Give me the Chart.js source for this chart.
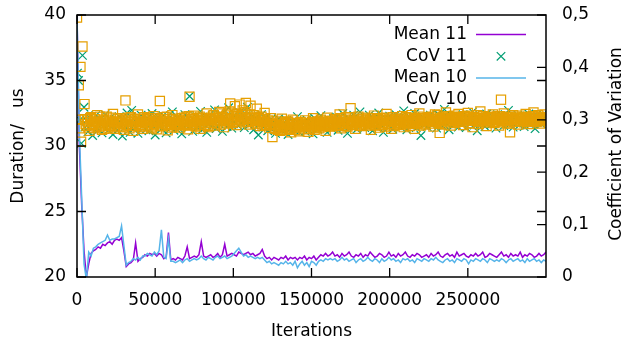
<!DOCTYPE html>
<html><head><meta charset="utf-8">
<script src="https://cdn.jsdelivr.net/npm/chart.js@4/dist/chart.umd.min.js"></script>
<style>html,body{margin:0;padding:0;background:#fff}#wrap{width:623px;height:344px;position:relative}</style>
</head><body><div id="wrap"><canvas id="c"></canvas></div>
<script>
// ---------- tick labels ----------
const xTicks = [0, 50000, 100000, 150000, 200000, 250000];
const yTicks = [20, 25, 30, 35, 40];
const y2Ticks = [0, 0.1, 0.2, 0.3, 0.4, 0.5];
const y2TickLabels = ['0', '0,1', '0,2', '0,3', '0,4', '0,5'];
const seriesLabels = ['Mean 11', 'CoV 11', 'Mean 10', 'CoV 10'];

// ---------- mean durations (us), sampled every 1500 iterations ----------
const meanStep = 1500;
const mean11 = [
40,30,25.5,22,20.0,21.0,21.8,22.0,22.1,22.3,
22.2,22.5,22.4,22.6,22.7,22.5,22.8,22.9,22.8,23.0,
22.0,20.8,21.0,21.1,21.3,22.6,21.2,21.4,21.5,21.7,
21.6,21.8,21.7,21.8,21.6,21.8,21.7,21.4,21.5,23.4,
21.3,21.4,21.3,21.5,21.4,21.3,21.6,22.3,21.4,21.5,
21.6,21.5,21.7,22.7,21.6,21.5,21.6,21.7,21.5,21.6,
21.8,21.5,21.7,22.5,21.6,21.7,21.8,21.7,21.6,21.9,
21.8,21.7,21.8,21.9,21.7,21.8,21.6,21.7,21.8,22.1,
21.6,21.4,21.5,21.3,21.5,21.4,21.3,21.5,21.4,21.6,
21.3,21.5,21.4,21.5,21.3,21.5,21.4,21.6,21.3,21.5,
21.4,21.6,21.3,21.5,21.7,21.6,21.8,21.6,21.7,21.9,
21.6,21.7,21.5,21.8,21.6,21.7,21.9,21.6,21.5,21.7,
21.6,21.8,21.5,21.7,21.6,21.9,21.7,21.5,21.6,21.8,
21.7,21.5,21.6,21.9,21.6,21.7,21.5,21.8,21.6,21.7,
21.9,21.6,21.5,21.7,21.6,21.8,21.7,21.5,21.6,21.7,
21.5,21.8,21.6,21.7,21.9,21.6,21.5,21.7,21.8,21.6,
21.7,21.5,21.9,21.6,21.7,21.8,21.6,21.5,21.7,21.6,
21.8,21.6,21.7,21.9,21.5,21.6,21.8,21.7,21.6,21.5,
21.7,21.9,21.6,21.7,21.5,21.8,21.6,21.7,21.6,21.9,
21.5,21.7,21.6,21.8,21.7,21.5,21.6,21.8,21.6,21.7,
21.9];
const mean10 = [
40,31,26,21,19.8,21.9,21.6,22.2,22.3,22.5,
22.6,22.7,22.8,23.2,22.8,22.9,22.9,23.0,23.1,23.9,
22.4,20.9,21.1,21.2,21.4,21.3,21.5,21.3,21.6,21.6,
21.8,21.7,21.6,21.9,21.7,22.0,23.6,21.5,21.4,22.9,
21.2,21.2,21.1,21.2,21.3,21.1,21.3,21.4,21.2,21.3,
21.4,21.3,21.4,21.6,21.4,21.3,21.5,21.4,21.3,21.5,
21.6,21.4,21.5,21.6,21.4,21.5,21.6,21.8,22.0,22.2,
21.9,21.6,21.7,21.5,21.6,21.5,21.4,21.5,21.4,21.5,
21.3,21.1,21.2,21.0,21.1,21.0,20.9,21.1,21.0,21.2,
21.0,21.1,20.9,21.2,20.7,21.0,21.2,20.9,21.1,20.8,
21.2,21.1,20.9,21.2,21.3,21.2,21.4,21.3,21.4,21.3,
21.4,21.2,21.3,21.5,21.3,21.4,21.2,21.3,21.4,21.1,
21.3,21.4,21.2,21.3,21.5,21.3,21.2,21.4,21.3,21.1,
21.4,21.2,21.3,21.5,21.3,21.4,21.2,21.3,21.1,21.4,
21.3,21.4,21.2,21.3,21.1,21.4,21.3,21.2,21.4,21.3,
21.2,21.4,21.3,21.5,21.3,21.2,21.1,21.3,21.4,21.2,
21.3,21.1,21.4,21.3,21.2,21.4,21.3,21.0,21.3,21.2,
21.4,21.3,21.2,21.4,21.3,21.1,21.4,21.3,21.2,21.3,
21.2,21.4,21.3,21.1,21.3,21.4,21.2,21.3,21.4,21.2,
21.3,21.1,21.4,21.2,21.3,21.4,21.2,21.3,21.1,21.3,
21.2];

// ---------- coefficient of variation ----------
// first iterations (irregular)
const cov11EarlyIter = [300, 1000, 1800, 2800, 3500, 4500];
const cov11Early = [0.389, 0.375, 0.300, 0.255, 0.423, 0.324];
const cov10EarlyIter = [0, 700, 1150, 1600, 2200, 2600, 3500, 4800];
const cov10Early = [0.495, 0.300, 0.366, 0.284, 0.401, 0.258, 0.440, 0.330];
// then one value every 1000 iterations from 5000 on
const covStart = 5000, covStep = 1000;
const cov11 = [
0.286,0.299,0.277,0.304,0.291,0.270,0.296,0.308,0.283,0.294,0.301,0.275,0.289,0.310,0.292,0.280,0.303,0.297,0.272,0.299,
0.291,0.280,0.306,0.295,0.269,0.300,0.287,0.313,0.293,0.276,0.318,0.290,0.285,0.302,0.274,0.297,0.309,0.288,0.296,0.281,
0.303,0.279,0.294,0.312,0.287,0.271,0.299,0.305,0.290,0.283,0.308,0.296,0.275,0.301,0.292,0.286,0.315,0.280,0.298,0.304,
0.284,0.296,0.273,0.302,0.310,0.289,0.293,0.345,0.292,0.278,0.300,0.306,0.285,0.297,0.316,0.281,0.293,0.303,0.276,0.299,
0.305,0.288,0.297,0.319,0.283,0.301,0.292,0.311,0.278,0.306,0.295,0.287,0.323,0.299,0.284,0.307,0.296,0.302,0.289,0.314,
0.293,0.309,0.285,0.300,0.324,0.290,0.297,0.306,0.281,0.303,0.294,0.271,0.299,0.310,0.286,0.296,0.304,0.279,0.292,0.301,
0.283,0.296,0.274,0.290,0.302,0.285,0.279,0.294,0.287,0.299,0.272,0.291,0.284,0.297,0.280,0.293,0.306,0.277,0.289,0.295,
0.286,0.278,0.300,0.291,0.284,0.297,0.273,0.303,0.289,0.282,0.295,0.308,0.287,0.299,0.291,0.276,0.300,0.294,0.283,0.302,
0.292,0.305,0.280,0.298,0.290,0.312,0.286,0.296,0.274,0.303,0.299,0.288,0.309,0.294,0.282,0.301,0.315,0.291,0.297,0.285,
0.300,0.287,0.309,0.294,0.279,0.302,0.296,0.285,0.313,0.291,0.298,0.276,0.304,0.293,0.288,0.307,0.299,0.282,0.296,0.310,
0.291,0.303,0.286,0.298,0.317,0.293,0.281,0.305,0.297,0.289,0.301,0.312,0.285,0.299,0.294,0.270,0.306,0.292,0.300,0.287,
0.298,0.309,0.290,0.303,0.295,0.284,0.311,0.297,0.302,0.288,0.320,0.294,0.305,0.281,0.299,0.307,0.292,0.301,0.296,0.286,
0.303,0.292,0.310,0.297,0.285,0.306,0.300,0.294,0.315,0.290,0.302,0.279,0.298,0.308,0.293,0.304,0.287,0.311,0.299,0.296,
0.291,0.305,0.298,0.284,0.310,0.302,0.293,0.307,0.289,0.301,0.295,0.318,0.292,0.299,0.286,0.304,0.297,0.309,0.290,0.303,
0.298,0.287,0.306,0.294,0.311,0.291,0.302,0.296,0.283,0.308,0.299,0.305,0.292,0.310,0.297,0.301];
const cov10 = [
0.301,0.288,0.296,0.279,0.305,0.292,0.284,0.298,0.309,0.287,0.294,0.281,0.300,0.291,0.306,0.285,0.297,0.289,0.311,0.283,
0.295,0.302,0.286,0.293,0.299,0.281,0.337,0.290,0.304,0.288,0.296,0.279,0.301,0.292,0.310,0.286,0.298,0.283,0.305,0.294,
0.289,0.303,0.291,0.284,0.307,0.296,0.282,0.299,0.336,0.293,0.288,0.305,0.297,0.280,0.301,0.292,0.309,0.287,0.295,0.290,
0.298,0.285,0.303,0.293,0.289,0.306,0.282,0.344,0.296,0.291,0.308,0.287,0.299,0.294,0.283,0.303,0.297,0.290,0.312,0.286,
0.301,0.294,0.308,0.289,0.303,0.297,0.315,0.291,0.305,0.286,0.299,0.310,0.293,0.331,0.302,0.296,0.326,0.290,0.307,0.329,
0.300,0.318,0.295,0.332,0.304,0.291,0.327,0.298,0.309,0.293,0.321,0.302,0.288,0.306,0.296,0.313,0.290,0.299,0.285,0.303,
0.267,0.291,0.283,0.298,0.286,0.279,0.302,0.288,0.294,0.281,0.297,0.284,0.276,0.300,0.289,0.285,0.293,0.278,0.296,0.287,
0.282,0.299,0.290,0.277,0.294,0.286,0.303,0.281,0.292,0.297,0.284,0.300,0.289,0.295,0.279,0.304,0.291,0.287,0.298,0.293,
0.301,0.288,0.296,0.310,0.284,0.299,0.292,0.305,0.287,0.294,0.322,0.290,0.300,0.283,0.297,0.306,0.291,0.288,0.302,0.295,
0.289,0.304,0.293,0.281,0.298,0.308,0.290,0.296,0.285,0.303,0.294,0.300,0.287,0.311,0.292,0.297,0.283,0.305,0.291,0.299,
0.302,0.290,0.295,0.307,0.286,0.299,0.293,0.304,0.288,0.309,0.296,0.283,0.301,0.294,0.312,0.289,0.298,0.303,0.291,0.297,
0.305,0.293,0.300,0.287,0.310,0.296,0.302,0.275,0.299,0.306,0.291,0.314,0.297,0.303,0.289,0.301,0.308,0.294,0.299,0.311,
0.296,0.304,0.290,0.307,0.299,0.313,0.293,0.301,0.286,0.305,0.298,0.309,0.292,0.316,0.300,0.295,0.303,0.288,0.306,0.297,
0.302,0.310,0.294,0.299,0.307,0.289,0.304,0.297,0.312,0.300,0.293,0.306,0.276,0.301,0.309,0.296,0.303,0.291,0.308,0.298,
0.304,0.295,0.311,0.300,0.292,0.306,0.298,0.314,0.301,0.296,0.309,0.293,0.305,0.302,0.310,0.299];
// CoV 10 values read between the above, at 5500, 6500, ... iterations
const cov10Mid = [
0.292,0.299,0.285,0.303,0.290,0.296,0.301,0.287,0.294,0.306,0.289,0.297,0.283,0.300,0.293,0.288,0.304,0.291,0.296,0.286,
0.298,0.289,0.303,0.294,0.286,0.300,0.291,0.297,0.284,0.305,0.293,0.299,0.288,0.296,0.302,0.290,0.295,0.301,0.287,0.297,
0.294,0.300,0.286,0.297,0.292,0.303,0.289,0.295,0.301,0.288,0.298,0.293,0.306,0.290,0.296,0.285,0.302,0.294,0.299,0.291,
0.300,0.293,0.297,0.304,0.290,0.298,0.307,0.292,0.301,0.295,0.289,0.303,0.297,0.306,0.291,0.299,0.294,0.302,0.288,0.300,
0.304,0.297,0.309,0.300,0.293,0.306,0.299,0.312,0.295,0.303,0.308,0.298,0.316,0.301,0.294,0.307,0.300,0.311,0.297,0.305,
0.309,0.299,0.314,0.302,0.296,0.310,0.303,0.297,0.306,0.300,0.293,0.304,0.298,0.291,0.301,0.295,0.289,0.297,0.292,0.290,
0.293,0.285,0.290,0.281,0.295,0.288,0.284,0.292,0.287,0.296,0.283,0.290,0.286,0.293,0.281,0.289,0.294,0.285,0.291,0.288,
0.290,0.286,0.293,0.283,0.289,0.296,0.285,0.291,0.288,0.294,0.290,0.286,0.297,0.292,0.288,0.295,0.290,0.298,0.292,0.296,
0.294,0.299,0.290,0.303,0.295,0.288,0.300,0.296,0.292,0.305,0.297,0.291,0.298,0.294,0.302,0.289,0.296,0.300,0.293,0.298,
0.296,0.291,0.300,0.294,0.303,0.289,0.297,0.301,0.293,0.298,0.290,0.304,0.295,0.299,0.292,0.302,0.296,0.288,0.300,0.294,
0.298,0.293,0.302,0.296,0.291,0.305,0.297,0.300,0.294,0.299,0.303,0.292,0.298,0.306,0.295,0.300,0.293,0.302,0.297,0.301,
0.300,0.306,0.296,0.302,0.298,0.309,0.294,0.301,0.304,0.297,0.303,0.299,0.307,0.295,0.302,0.298,0.305,0.300,0.296,0.303,
0.301,0.297,0.305,0.299,0.308,0.294,0.302,0.306,0.298,0.303,0.300,0.296,0.304,0.299,0.307,0.301,0.295,0.303,0.298,0.305,
0.299,0.304,0.296,0.302,0.300,0.307,0.295,0.303,0.298,0.305,0.301,0.297,0.304,0.300,0.296,0.306,0.299,0.302,0.297,0.304,
0.301,0.298,0.305,0.296,0.303,0.300,0.307,0.297,0.302,0.299,0.306,0.301,0.297,0.304,0.300,0.303];

// ---------- build datasets ----------
const meanPts = arr => arr.map((v, i) => ({x: i * meanStep, y: v}));
const gridPts = (arr, start) => arr.map((v, i) => ({x: start + i * covStep, y: v}));
const earlyPts = (eIter, eVal) => eIter.map((it, i) => ({x: it, y: eVal[i]}));

const FONT = {family: 'DejaVu Sans', size: 17};
const COLORS = ['#9400d3', '#009e73', '#56b4e9', '#e69f00'];

const TICK = 9;
const framePlugin = {
  id: 'frame',
  afterDatasetsDraw(chart) {
    const {ctx, chartArea: a, scales} = chart;
    const x = scales.x, y = scales.y, y2 = scales.y2;
    ctx.save();
    ctx.strokeStyle = '#000';
    ctx.lineWidth = 1.3;
    ctx.beginPath();
    xTicks.forEach(v => { const p = x.getPixelForValue(v);
      ctx.moveTo(p, a.bottom); ctx.lineTo(p, a.bottom - TICK);
      ctx.moveTo(p, a.top); ctx.lineTo(p, a.top + TICK); });
    yTicks.forEach(v => { const p = y.getPixelForValue(v);
      ctx.moveTo(a.left, p); ctx.lineTo(a.left + TICK, p);
      ctx.moveTo(a.right, p); ctx.lineTo(a.right - TICK, p); });
    y2Ticks.forEach(v => { const p = y2.getPixelForValue(v);
      ctx.moveTo(a.right, p); ctx.lineTo(a.right - TICK, p); });
    ctx.stroke();
    ctx.lineWidth = 1.5;
    ctx.strokeRect(a.left, a.top, a.right - a.left, a.bottom - a.top);

    // legend (text right-aligned, sample to the right)
    ctx.font = `${FONT.size}px "${FONT.family}"`;
    ctx.textAlign = 'right';
    ctx.textBaseline = 'middle';
    seriesLabels.forEach((lab, k) => {
      const ly = a.top + 19.6 + k * 21.7;
      ctx.fillStyle = '#000';
      ctx.fillText(lab, a.right - 79, ly);
      ctx.strokeStyle = COLORS[k];
      if (k === 0 || k === 2) {
        ctx.lineWidth = 1.5;
        ctx.beginPath(); ctx.moveTo(a.right - 70, ly); ctx.lineTo(a.right - 20, ly); ctx.stroke();
      } else if (k === 1) {
        const h = 6 * Math.SQRT1_2; const cx = a.right - 45;
        ctx.lineWidth = 1.2;
        ctx.beginPath();
        ctx.moveTo(cx - h, ly - h); ctx.lineTo(cx + h, ly + h);
        ctx.moveTo(cx - h, ly + h); ctx.lineTo(cx + h, ly - h);
        ctx.stroke();
      } else {
        const h = 6.5 * Math.SQRT1_2; const cx = a.right - 45;
        ctx.lineWidth = 1.2;
        ctx.strokeRect(cx - h, ly - h, 2 * h, 2 * h);
      }
    });

    // right axis title, reading bottom to top
    ctx.fillStyle = '#000';
    ctx.textAlign = 'center';
    ctx.translate(617, (a.top + a.bottom) / 2 - 2);
    ctx.rotate(-Math.PI / 2);
    ctx.fillText(chart.options.scales.y2.title.text, 0, 0);
    ctx.restore();
  }
};

const noPadV = s => { s.width = 77; s.paddingTop = 0; s.paddingBottom = 0; };

new Chart(document.getElementById('c'), {
  type: 'line',
  data: {
    datasets: [
      {label: seriesLabels[0], data: meanPts(mean11), borderColor: COLORS[0], borderWidth: 1.5,
       pointRadius: 0, tension: 0, yAxisID: 'y', order: 4, clip: 0},
      {label: seriesLabels[1], data: earlyPts(cov11EarlyIter, cov11Early).concat(gridPts(cov11, covStart)), showLine: false,
       pointStyle: 'crossRot', pointRadius: 6, pointBorderColor: COLORS[1], borderColor: COLORS[1],
       pointBorderWidth: 1.2, yAxisID: 'y2', order: 3, clip: 0},
      {label: seriesLabels[2], data: meanPts(mean10), borderColor: COLORS[2], borderWidth: 1.5,
       pointRadius: 0, tension: 0, yAxisID: 'y', order: 2, clip: 0},
      {label: seriesLabels[3],
       data: earlyPts(cov10EarlyIter, cov10Early).concat(gridPts(cov10, covStart), gridPts(cov10Mid, covStart + covStep / 2))
               .sort((p, q) => p.x - q.x),
       showLine: false,
       pointStyle: 'rect', pointRadius: 6.5, pointBorderColor: COLORS[3], borderColor: COLORS[3],
       pointBackgroundColor: 'rgba(0,0,0,0)', backgroundColor: 'rgba(0,0,0,0)',
       pointBorderWidth: 1.2, yAxisID: 'y2', order: 1, clip: 0}
    ]
  },
  options: {
    responsive: true, maintainAspectRatio: false, animation: false, events: [],
    layout: {padding: {top: 15, left: 0, right: 0, bottom: 0}},
    plugins: {legend: {display: false}, tooltip: {enabled: false}},
    scales: {
      x: {
        type: 'linear', min: 0, max: 300000,
        afterBuildTicks: s => { s.ticks = xTicks.map(v => ({value: v})); },
        afterFit: s => { s.height = 67; s.paddingLeft = 0; s.paddingRight = 0; },
        grid: {display: false, drawTicks: false}, border: {display: false},
        ticks: {font: FONT, color: '#000', padding: 13, maxRotation: 0, autoSkip: false,
                callback: v => String(v)},
        title: {display: true, text: 'Iterations', font: FONT, color: '#000', padding: {top: 0, bottom: 2}}
      },
      y: {
        type: 'linear', position: 'left', min: 20, max: 40,
        afterBuildTicks: s => { s.ticks = yTicks.map(v => ({value: v})); },
        afterFit: noPadV,
        grid: {display: false, drawTicks: false}, border: {display: false},
        ticks: {font: FONT, color: '#000', padding: 11, callback: v => String(v)},
        title: {display: true, text: 'Duration/   us', font: FONT, color: '#000', padding: {top: 8, bottom: 0}}
      },
      y2: {
        type: 'linear', position: 'right', min: 0, max: 0.5,
        afterBuildTicks: s => { s.ticks = y2Ticks.map(v => ({value: v})); },
        afterFit: noPadV,
        grid: {display: false, drawTicks: false}, border: {display: false},
        ticks: {font: FONT, color: '#000', padding: 16,
                callback: v => { const i = y2Ticks.findIndex(t => Math.abs(t - v) < 1e-9); return i >= 0 ? y2TickLabels[i] : ''; }},
        title: {display: false, text: 'Coefficient of Variation', font: FONT, color: '#000'}
      }
    }
  },
  plugins: [framePlugin]
});
</script>
</body></html>
